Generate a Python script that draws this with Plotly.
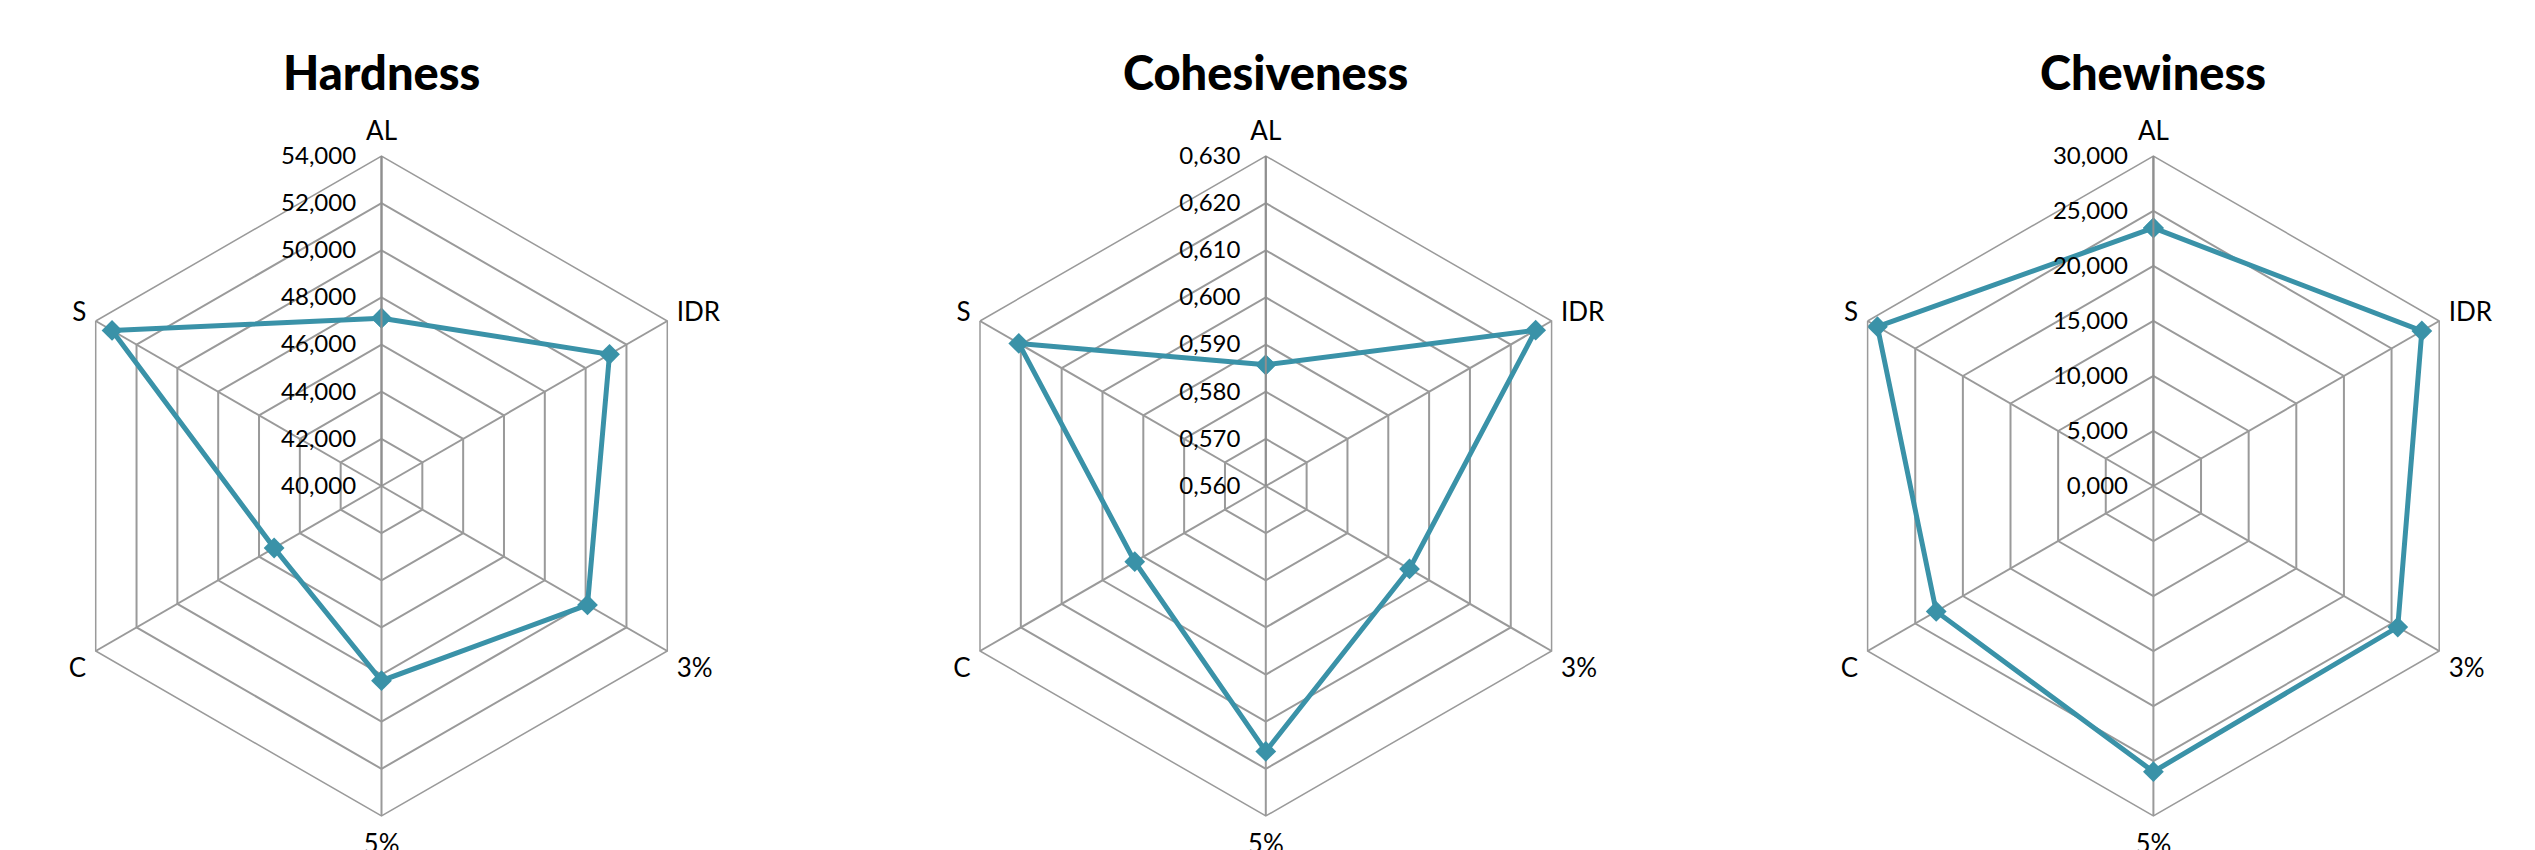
import plotly.graph_objects as go

categories = ["AL", "IDR", "3%", "5%", "C", "S"]

hardness = [47.12, 51.17, 50.09, 48.26, 45.26, 53.20]
cohesiveness = [0.5857, 0.6261, 0.5952, 0.6163, 0.5921, 0.6205]
chewiness = [23.46, 28.18, 25.65, 25.97, 22.80, 28.97]

titles = ["Hardness", "Cohesiveness", "Chewiness"]
ranges = [[40, 54], [0.56, 0.63], [0, 30]]
dticks = [2, 0.01, 5]
series = [hardness, cohesiveness, chewiness]

COLOR = "#3A92A8"
GRID = "#9a9a9a"
FONT = "Lato"

W, H = 2535, 850
OFF = 8  # page body margin compensation
centers_x = [381.5 - OFF, 1265.8 - OFF, 2153.4 - OFF]
center_y = 486 - OFF
R = 330
title_y = 72 - OFF

fig = go.Figure()
layout_polars = {}
annotations = []
for i, (t, vals, rng, dt) in enumerate(zip(titles, series, ranges, dticks)):
    pname = "polar" if i == 0 else f"polar{i+1}"
    cx = centers_x[i]
    dom_x = [(cx - R) / W, (cx + R) / W]
    dom_y = [(H - (center_y + R)) / H, (H - (center_y - R)) / H]
    fig.add_trace(go.Scatterpolar(
        r=vals + [vals[0]],
        theta=categories + [categories[0]],
        mode="lines+markers",
        line=dict(color=COLOR, width=5),
        marker=dict(symbol="diamond", size=16, color=COLOR),
        subplot=pname,
        showlegend=False,
        hoverinfo="skip",
    ))
    layout_polars[pname] = dict(
        domain=dict(x=dom_x, y=dom_y),
        gridshape="linear",
        bgcolor="white",
        radialaxis=dict(
            range=rng,
            dtick=dt,
            tick0=rng[0],
            tickformat=".3f",
            angle=90,
            tickangle=90,
            side="counterclockwise",
            showline=True,
            linecolor="#8f8f8f",
            linewidth=2,
            gridcolor=GRID,
            gridwidth=1.5,
            ticks="outside",
            ticklen=16,
            tickcolor="rgba(0,0,0,0)",
            tickfont=dict(family=FONT, size=24, color="black"),
        ),
        angularaxis=dict(
            direction="clockwise",
            rotation=90,
            showline=True,
            linecolor=GRID,
            linewidth=1.5,
            gridcolor=GRID,
            gridwidth=1.5,
            ticks="outside",
            ticklen=5,
            tickcolor="rgba(0,0,0,0)",
            tickfont=dict(family=FONT, size=26, color="black"),
        ),
    )
    annotations.append(dict(
        text=t,
        x=cx / W, y=1 - title_y / H,
        xref="paper", yref="paper",
        xanchor="center", yanchor="middle",
        showarrow=False,
        font=dict(family=FONT, size=47, color="black", weight=900),
    ))

fig.update_layout(
    width=W, height=H,
    margin=dict(l=0, r=0, t=0, b=0),
    paper_bgcolor="white",
    plot_bgcolor="white",
    separators=",.",
    annotations=annotations,
    **layout_polars,
)

fig.write_html("out.html")
